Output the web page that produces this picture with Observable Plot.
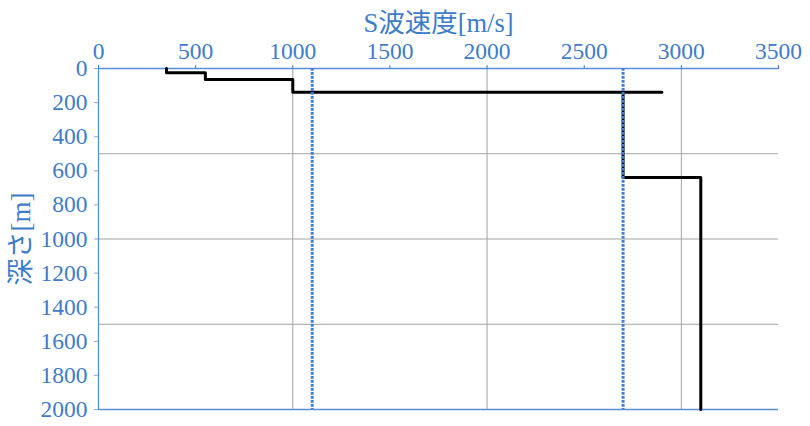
<!DOCTYPE html>
<html>
<head>
<meta charset="utf-8">
<script src="https://cdn.jsdelivr.net/npm/d3@7"></script>
<script src="https://cdn.jsdelivr.net/npm/@observablehq/plot@0.6"></script>
<style>
  html, body { margin: 0; padding: 0; background: #fff; }
  #chart svg { display: block; }
</style>
</head>
<body>
<div id="chart"></div>
<script>
// S-wave velocity profile (step line)
const velocity = [350, 350, 550, 550, 1000, 1000, 2900, 2700, 2700, 3100, 3100];
const depth    = [0,   25,  25,  65,  65,   140,  140,  140,  640,  640,  2000];
// reference velocities (dotted lines)
const refVelocity = [1100, 2700];
// tick labels / grid
const xTicks = [0, 500, 1000, 1500, 2000, 2500, 3000, 3500];
const yTicks = [0, 200, 400, 600, 800, 1000, 1200, 1400, 1600, 1800, 2000];
const xGrid = [1000, 2000, 3000];
const yGrid = [500, 1000, 1500];
const xTitle = "S波速度[m/s]";
const yTitle = "深さ[m]";

const profile = velocity.map((v, i) => ({v, d: depth[i]}));
const blue = "#3e7cc9";
const axisBlue = "#5a8fd6";
const grid = "#a3a3a3";
const font = "Liberation Serif, Noto Sans CJK JP, serif";

const chart = Plot.plot({
  width: 810,
  height: 426,
  marginLeft: 98,
  marginRight: 32,
  marginTop: 68,
  marginBottom: 17,
  style: {background: "#fff", overflow: "visible"},
  x: {domain: [0, 3500]},
  y: {domain: [0, 2000], reverse: true},
  marks: [
    Plot.ruleX(xGrid, {stroke: grid, strokeWidth: 1}),
    Plot.ruleY(yGrid, {stroke: grid, strokeWidth: 1}),
    Plot.ruleY([0, 2000], {stroke: axisBlue, strokeWidth: 1.3}),
    Plot.ruleX([0], {stroke: axisBlue, strokeWidth: 1.3}),
    Plot.axisX({anchor: "top", ticks: xTicks, tickSize: 4, tickPadding: 6, color: blue, label: null, fontSize: 23.5, fontFamily: font, tickFormat: d => String(d)}),
    Plot.axisY({anchor: "left", ticks: yTicks, tickSize: 4, tickPadding: 7, color: blue, stroke: "#8fa8cf", label: null, fontSize: 23.5, fontFamily: font, tickFormat: d => String(d)}),
    Plot.line(profile, {x: "v", y: "d", stroke: "#000", strokeWidth: 3, curve: "linear"}),
    Plot.ruleX(refVelocity, {y1: 0, y2: 2000, stroke: "#3a80e0", strokeWidth: 3, strokeDasharray: "2.7,1.3"}),
    Plot.text([xTitle], {frameAnchor: "top", dy: -55, fill: blue, fontSize: 26.5, fontFamily: font, text: d => d}),
    Plot.text([yTitle], {frameAnchor: "left", textAnchor: "middle", dx: -77, rotate: -90, fill: blue, fontSize: 27, fontFamily: font, text: d => d})
  ]
});
d3.select(chart).selectAll("text").style("font-family", font);
document.getElementById("chart").appendChild(chart);
</script>
</body>
</html>
